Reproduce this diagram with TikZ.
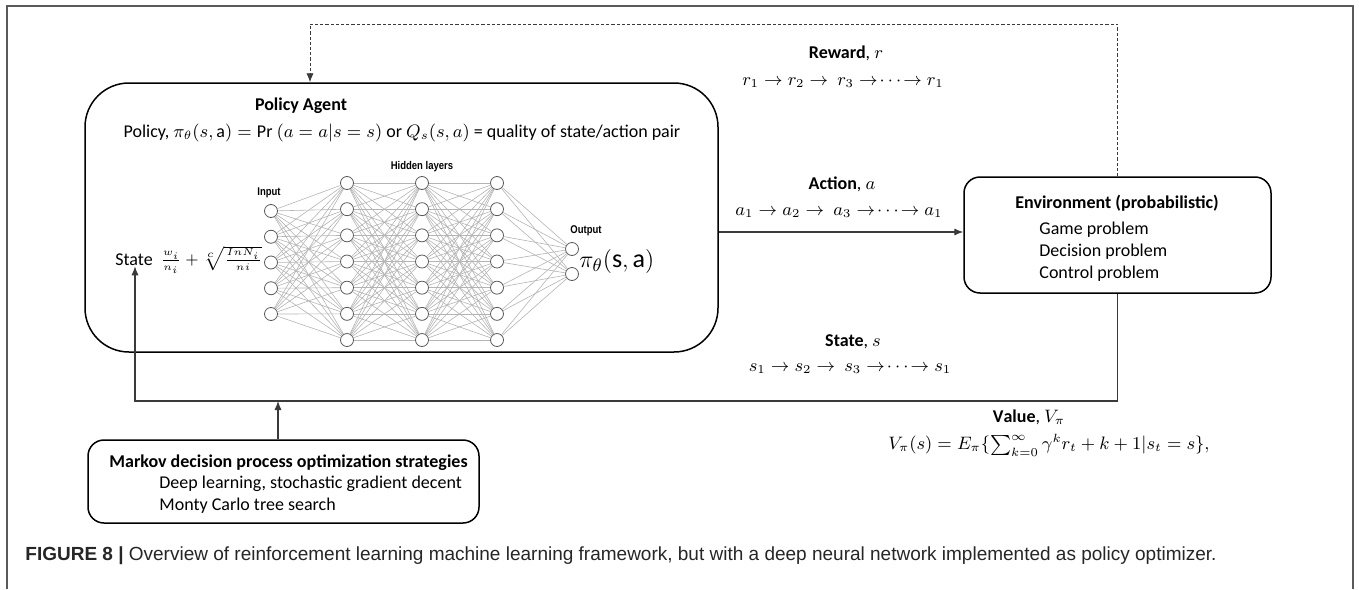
\documentclass[tikz,border=0pt]{standalone}
\usepackage{fontspec}
\setmainfont{Carlito}
\newfontfamily\capfont{Liberation Sans}
\newfontfamily\netfont{Liberation Sans}
\usetikzlibrary{arrows.meta}
\definecolor{linegray}{HTML}{3A3A3A}
\definecolor{edgegray}{HTML}{B4B4B4}
\definecolor{framegray}{HTML}{5A5A5A}
\tikzset{
  box/.style={draw=black, line width=0.75pt, fill=none},
  conn/.style={draw=linegray, line width=0.55pt},
  tip/.style={-{Latex[length=4.5pt,width=3.6pt]}},
  lbl/.style={inner sep=0pt, font=\fontsize{9}{11}\selectfont},
  neuron/.style={circle, draw=black!65, line width=0.4pt, fill=white, minimum size=6.5pt, inner sep=0pt},
  syn/.style={draw=edgegray, line width=0.3pt},
  netlbl/.style={inner sep=0pt, font=\netfont\bfseries\fontsize{5.6}{6}\selectfont}
}
\newcommand{\seqarrow}{\mathrel{\rightarrow}}
\begin{document}
\begin{tikzpicture}[x=0.5pt, y=-0.5pt]
\useasboundingbox (0,0) rectangle (1359,589);

% outer frame of the figure panel
\draw[framegray, line width=0.6pt] (7,589) -- (7,6) -- (1353,6) -- (1353,589);

% main blocks
\node[box, rounded corners=22pt, minimum width=316.5pt, minimum height=134.5pt] (agent) at (401.5,217.5) {};
\node[box, rounded corners=8pt, minimum width=153.5pt, minimum height=58pt] (env) at (1117.5,235) {};
\node[box, rounded corners=8pt, minimum width=195.5pt, minimum height=41.5pt] (mdp) at (283.5,481.5) {};

% agent contents
\node[lbl, font=\bfseries\fontsize{9}{11}\selectfont] (agenttitle) at (301,106) {Policy Agent};
\node[lbl] (policy) at (402,133) {Policy, $\pi_\theta(s,\mathrm{a}) = \mathrm{Pr}\ (a = a|s = s)$ or $Q_s(s,a)$ = quality of state/action pair};
\node[lbl, anchor=west] (statelbl) at (115,260) {State};
\node[lbl, anchor=west, font=\fontsize{7.6}{9}\selectfont] (stateform) at (160,260) {$\frac{w_i}{n_i}+\sqrt[c]{\frac{InN_i}{ni}}$};

% neural network
\foreach \k in {1,...,5} {
  \node[neuron] (in\k) at (271,{211+25.75*(\k-1)}) {};
}
\foreach \L/\X in {ha/347,hb/422,hc/497} {
  \foreach \k in {1,...,7} {
    \node[neuron] (\L\k) at (\X,{183+26.17*(\k-1)}) {};
  }
}
\node[neuron] (out1) at (572,249) {};
\node[neuron] (out2) at (572,274) {};
\foreach \a in {1,...,5} \foreach \b in {1,...,7} \draw[syn] (in\a) -- (ha\b);
\foreach \a in {1,...,7} \foreach \b in {1,...,7} {
  \draw[syn] (ha\a) -- (hb\b);
  \draw[syn] (hb\a) -- (hc\b);
}
\foreach \a in {1,...,7} \foreach \b in {1,2} \draw[syn] (hc\a) -- (out\b);
\node[netlbl, xscale=0.85] (inlbl) at (269,193) {Input};
\node[netlbl, xscale=0.85] (hidlbl) at (422,167) {Hidden layers};
\node[netlbl, xscale=0.85] (outlbl) at (586,231) {Output};
\node[lbl, anchor=west, font=\fontsize{13}{15}\selectfont] (pilbl) at (579,261) {$\pi_\theta(\mathrm{s},\mathrm{a})$};

% environment contents
\node[lbl, font=\bfseries\fontsize{9}{11}\selectfont] (envtitle) at (1117,203) {Environment (probabilistic)};
\node[lbl, anchor=west] (game) at (1039,230) {Game problem};
\node[lbl, anchor=west] (decision) at (1039,252) {Decision problem};
\node[lbl, anchor=west] (control) at (1039,274) {Control problem};

% optimisation strategies
\node[lbl, anchor=west, font=\bfseries\fontsize{9}{11}\selectfont] (mdptitle) at (109,463) {Markov decision process optimization strategies};
\node[lbl, anchor=west] (deep) at (159,484) {Deep learning, stochastic gradient decent};
\node[lbl, anchor=west] (mcts) at (159,506) {Monty Carlo tree search};

% signal labels
\node[lbl] (rewardlbl) at (846,53) {\textbf{Reward}, $r$};
\node[lbl] (rewardseq) at (843,82) {$r_1 \seqarrow r_2 \seqarrow\ r_3 \seqarrow\!\cdots\!\seqarrow r_1$};
\node[lbl] (actionlbl) at (842,184) {\textbf{Action}, $a$};
\node[lbl] (actionseq) at (839,212) {$a_1 \seqarrow a_2 \seqarrow\ a_3 \seqarrow\!\cdots\!\seqarrow a_1$};
\node[lbl] (statesig) at (853,342) {\textbf{State}, $s$};
\node[lbl] (stateseq) at (850,368) {$s_1 \seqarrow s_2 \seqarrow\ s_3 \seqarrow\!\cdots\!\seqarrow s_1$};
\node[lbl] (valuelbl) at (1029,417) {{\addfontfeature{Kerning=Off}\textbf{Value}}, $V_\pi$};
\node[lbl] (valueform) at (1049,445) {$V_\pi(s) = E_\pi\{\sum_{k=0}^{\infty}\gamma^k r_t + k + 1|s_t = s\},$};

% connectors
\coordinate (acty) at (0,232);
\coordinate (fbleft) at (310,24);
\coordinate (loopleft) at (135,401);
\coordinate (mdpx) at (278,0);
\draw[conn, tip] (agent.east |- acty) -- (env.west |- acty);
\draw[conn, line width=0.45pt, dash pattern=on 1.6pt off 1pt, tip] (env.north) |- (fbleft) -- (fbleft |- agent.north);
\draw[conn, tip] (env.south) |- (loopleft) -- (loopleft |- statelbl.south);
\draw[conn, tip] (mdp.north -| mdpx) -- (mdpx |- loopleft);

% caption
\node[anchor=west, inner sep=0pt, text=black!85, font=\capfont\fontsize{9.5}{11}\selectfont] (caption) at (25,556) {\textbf{FIGURE 8 |} Overview of reinforcement learning machine learning framework, but with a deep neural network implemented as policy optimizer.};
\end{tikzpicture}
\end{document}
